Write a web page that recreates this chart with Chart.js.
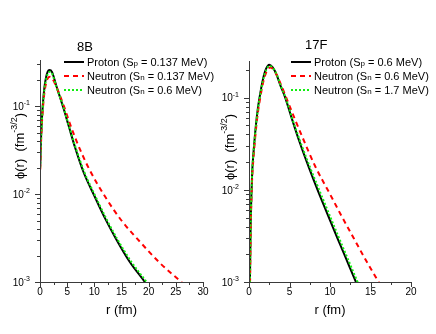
<!DOCTYPE html>
<html><head><meta charset="utf-8">
<script src="https://cdn.jsdelivr.net/npm/chart.js@4/dist/chart.umd.min.js"></script>
<style>
html,body{margin:0;padding:0;background:#fff;width:436px;height:334px;overflow:hidden}
canvas{position:absolute;top:0}
#c1{left:0}#c2{left:218px}
</style>
</head><body>
<canvas id="c1" width="218" height="334" style="width:218px;height:334px"></canvas>
<canvas id="c2" width="218" height="334" style="width:218px;height:334px"></canvas>
<script>
// ---------- DATA ----------
const seriesNames = ['Proton', 'Neutron', 'Neutron'];
const seriesSub = ['p', 'n', 'n'];

// 8B panel
const b8Title = '8B';
const b8Energies = ['0.137', '0.137', '0.6'];
const b8XTicks = [0, 5, 10, 15, 20, 25, 30];
const b8YTicks = [-3, -2, -1];
const b8ProtonR   = [0.05, 0.15, 0.3, 0.5, 0.8, 1.1, 1.4, 1.75, 2.2, 3.0, 4.3, 5.3, 6.5, 8.0, 10.0, 12.0, 14.0, 16.5, 19.4, 20.6];
const b8ProtonPhi = [0.021, 0.037, 0.062, 0.10, 0.16, 0.21, 0.245, 0.257, 0.245, 0.170, 0.0955, 0.0589, 0.0331, 0.0178, 0.00955, 0.00525, 0.00309, 0.0017, 0.00098, 0.00076];
const b8NeutronR   = [0.05, 0.15, 0.3, 0.5, 0.8, 1.1, 1.4, 1.85, 2.3, 3.0, 4.4, 5.5, 7.0, 9.0, 12.0, 15.0, 18.5, 22.0, 26.0, 27.0];
const b8NeutronPhi = [0.019, 0.033, 0.055, 0.088, 0.14, 0.18, 0.205, 0.215, 0.204, 0.166, 0.10, 0.0631, 0.0363, 0.0195, 0.0093, 0.0050, 0.00282, 0.00166, 0.001, 0.00088];
const b8Neutron2R   = [0.05, 0.15, 0.3, 0.5, 0.8, 1.1, 1.4, 1.8, 2.2, 3.0, 4.35, 5.35, 6.6, 8.15, 10.15, 12.2, 14.2, 16.8, 19.7, 20.9];
const b8Neutron2Phi = [0.020, 0.035, 0.059, 0.095, 0.153, 0.198, 0.23, 0.245, 0.236, 0.166, 0.0955, 0.0589, 0.0331, 0.0178, 0.00955, 0.00525, 0.00309, 0.0017, 0.00098, 0.00076];

// 17F panel
const f17Title = '17F';
const f17Energies = ['0.6', '0.6', '1.7'];
const f17XTicks = [0, 5, 10, 15, 20];
const f17YTicks = [-3, -2, -1];
const f17ProtonR   = [0.08, 0.12, 0.2, 0.3, 0.4, 0.55, 0.7, 0.9, 1.1, 1.3, 1.7, 2.1, 2.5, 2.9, 3.4, 3.85, 4.47, 5.3, 6.2, 7.4, 8.6, 9.7, 10.9, 12.0, 13.2, 13.8];
const f17ProtonPhi = [0.0006, 0.0011, 0.004, 0.009, 0.016, 0.025, 0.036, 0.055, 0.077, 0.10, 0.155, 0.205, 0.228, 0.214, 0.178, 0.138, 0.10, 0.0589, 0.0339, 0.0174, 0.00933, 0.00543, 0.00302, 0.00178, 0.001, 0.00075];
const f17NeutronR   = [0.08, 0.13, 0.2, 0.3, 0.4, 0.55, 0.7, 0.9, 1.1, 1.3, 1.7, 2.1, 2.6, 3.1, 4.0, 4.6, 5.6, 6.6, 8.2, 9.9, 11.4, 12.9, 14.4, 16.0, 16.6];
const f17NeutronPhi = [0.0005, 0.001, 0.0033, 0.0078, 0.014, 0.022, 0.032, 0.049, 0.069, 0.09, 0.14, 0.186, 0.212, 0.198, 0.135, 0.10, 0.0603, 0.0372, 0.0178, 0.00933, 0.00525, 0.00302, 0.00174, 0.001, 0.00081];
const f17Neutron2R   = [0.08, 0.12, 0.2, 0.3, 0.4, 0.55, 0.7, 0.9, 1.1, 1.3, 1.7, 2.1, 2.55, 2.95, 3.45, 3.9, 4.52, 5.35, 6.3, 7.55, 8.8, 9.9, 11.1, 12.2, 13.4, 14.0];
const f17Neutron2Phi = [0.0006, 0.0011, 0.004, 0.009, 0.016, 0.025, 0.036, 0.054, 0.075, 0.097, 0.15, 0.198, 0.222, 0.21, 0.176, 0.136, 0.10, 0.0589, 0.0339, 0.0174, 0.00933, 0.00543, 0.00302, 0.00178, 0.001, 0.00075];

// ---------- HELPERS ----------
const FONT = '"Liberation Sans", Arial, Helvetica, sans-serif';
function pts(r, v) { return r.map((x, i) => ({ x: x, y: v[i] })); }
function richWidth(ctx, parts) {
  let w = 0;
  for (const p of parts) { ctx.font = p.size + 'px ' + FONT; w += ctx.measureText(p.t).width; }
  return w;
}
function drawRich(ctx, parts, x, y) {
  let cx = x;
  for (const p of parts) {
    ctx.font = p.size + 'px ' + FONT;
    ctx.fillText(p.t, cx, y + (p.dy || 0));
    cx += ctx.measureText(p.t).width;
  }
}
const colors = ['#000000', '#ff0000', '#11ee11'];
const dashes = [[], [5, 4], [2, 2]];
const widths = [2, 2, 2];

const decoPlugin = {
  id: 'deco',
  afterDraw(chart, args, o) {
    const ctx = chart.ctx, ca = chart.chartArea;
    const xs = chart.scales.x, ys = chart.scales.y;
    ctx.save();
    // axis lines
    ctx.strokeStyle = '#3a3a3a'; ctx.lineWidth = 1;
    ctx.beginPath();
    ctx.moveTo(Math.round(ca.left) + 0.5, ca.top);
    ctx.lineTo(Math.round(ca.left) + 0.5, Math.round(ca.bottom) + 0.5);
    ctx.lineTo(ca.right, Math.round(ca.bottom) + 0.5);
    ctx.stroke();
    // x ticks (major + minor)
    const xt = o.xTicks, step = xt[1] - xt[0];
    ctx.beginPath();
    for (let v = xt[0]; v <= xt[xt.length - 1] + 1e-9; v += step / 2) {
      const px = Math.round(xs.getPixelForValue(v)) + 0.5;
      const major = Math.abs(v / step - Math.round(v / step)) < 1e-6;
      ctx.moveTo(px, ca.bottom); ctx.lineTo(px, ca.bottom + (major ? 5 : 3));
    }
    // y ticks
    for (let d = o.yTicks[0]; d <= o.yTicks[o.yTicks.length - 1] + 1; d++) {
      for (let m = 1; m <= 9; m++) {
        const v = m * Math.pow(10, d);
        if (v < ys.min * 0.999 || v > ys.max) continue;
        const py = Math.round(ys.getPixelForValue(v)) + 0.5;
        ctx.moveTo(ca.left, py); ctx.lineTo(ca.left - (m === 1 ? 5 : 3), py);
      }
    }
    ctx.stroke();
    ctx.fillStyle = '#000';
    // x labels
    ctx.textAlign = 'center'; ctx.textBaseline = 'middle';
    ctx.font = '10px ' + FONT;
    for (const v of xt) ctx.fillText(String(v), xs.getPixelForValue(v), ca.bottom + 10);
    // y labels with superscripts
    ctx.textAlign = 'left'; ctx.textBaseline = 'middle';
    for (const d of o.yTicks) {
      const parts = [{ t: '10', size: 10 }, { t: String(d), size: 7, dy: -4 }];
      const w = richWidth(ctx, parts);
      drawRich(ctx, parts, ca.left - 10 - w, ys.getPixelForValue(Math.pow(10, d)) + 1);
    }
    // x title
    ctx.textAlign = 'center'; ctx.font = '13px ' + FONT;
    ctx.fillText('r (fm)', (ca.left + ca.right) / 2, ca.bottom + 28);
    // y title rotated
    ctx.save();
    ctx.translate(o.yTitleX, o.yTitleY);
    ctx.rotate(-Math.PI / 2);
    ctx.textAlign = 'left';
    const tparts = [{ t: 'ϕ(r)  (fm', size: 13 }, { t: '-3/2', size: 9, dy: -5 }, { t: ')', size: 13 }];
    drawRich(ctx, tparts, -richWidth(ctx, tparts) / 2, 0);
    ctx.restore();
    // panel title
    ctx.textAlign = 'left'; ctx.font = '13px ' + FONT;
    ctx.fillText(o.title, o.titleX, o.titleY);
    // legend
    for (let i = 0; i < 3; i++) {
      const y = o.legY + i * o.legDy;
      ctx.strokeStyle = colors[i]; ctx.lineWidth = widths[i]; ctx.setLineDash(dashes[i]);
      ctx.beginPath(); ctx.moveTo(o.legX, y); ctx.lineTo(o.legX + 20, y); ctx.stroke();
      ctx.setLineDash([]);
      ctx.textAlign = 'left';
      drawRich(ctx, [
        { t: seriesNames[i] + ' (S', size: 11 },
        { t: seriesSub[i], size: 8, dy: 1 },
        { t: ' = ' + o.energies[i] + ' MeV)', size: 11 }
      ], o.legX + 23, y + 1);
    }
    ctx.restore();
  }
};

function makeChart(id, sets, xmax, ymax, pad, deco) {
  const datasets = sets.map((s, i) => ({
    data: pts(s[0], s[1]),
    borderColor: colors[i], borderWidth: widths[i], borderDash: dashes[i],
    pointRadius: 0, fill: false, cubicInterpolationMode: 'monotone',
    order: 3 - i
  }));
  return new Chart(document.getElementById(id), {
    type: 'line',
    data: { datasets },
    options: {
      responsive: false, animation: false, devicePixelRatio: 1,
      layout: { padding: pad },
      plugins: { legend: { display: false }, tooltip: { enabled: false }, deco },
      scales: {
        x: { type: 'linear', min: 0, max: xmax, display: false },
        y: { type: 'logarithmic', min: 0.001, max: ymax, display: false }
      }
    },
    plugins: [decoPlugin]
  });
}

makeChart('c1',
  [[b8ProtonR, b8ProtonPhi], [b8NeutronR, b8NeutronPhi], [b8Neutron2R, b8Neutron2Phi]],
  30, 0.334, { left: 40, right: 15, top: 60, bottom: 52 },
  { title: b8Title, titleX: 77, titleY: 47, xTicks: b8XTicks, yTicks: b8YTicks,
    energies: b8Energies, legX: 64, legY: 62, legDy: 14, yTitleX: 20, yTitleY: 146 });

makeChart('c2',
  [[f17ProtonR, f17ProtonPhi], [f17NeutronR, f17NeutronPhi], [f17Neutron2R, f17Neutron2Phi]],
  20, 0.25, { left: 31, right: 25, top: 61, bottom: 52 },
  { title: f17Title, titleX: 87, titleY: 45, xTicks: f17XTicks, yTicks: f17YTicks,
    energies: f17Energies, legX: 73, legY: 62, legDy: 14, yTitleX: 12, yTitleY: 147 });
</script>
</body></html>
